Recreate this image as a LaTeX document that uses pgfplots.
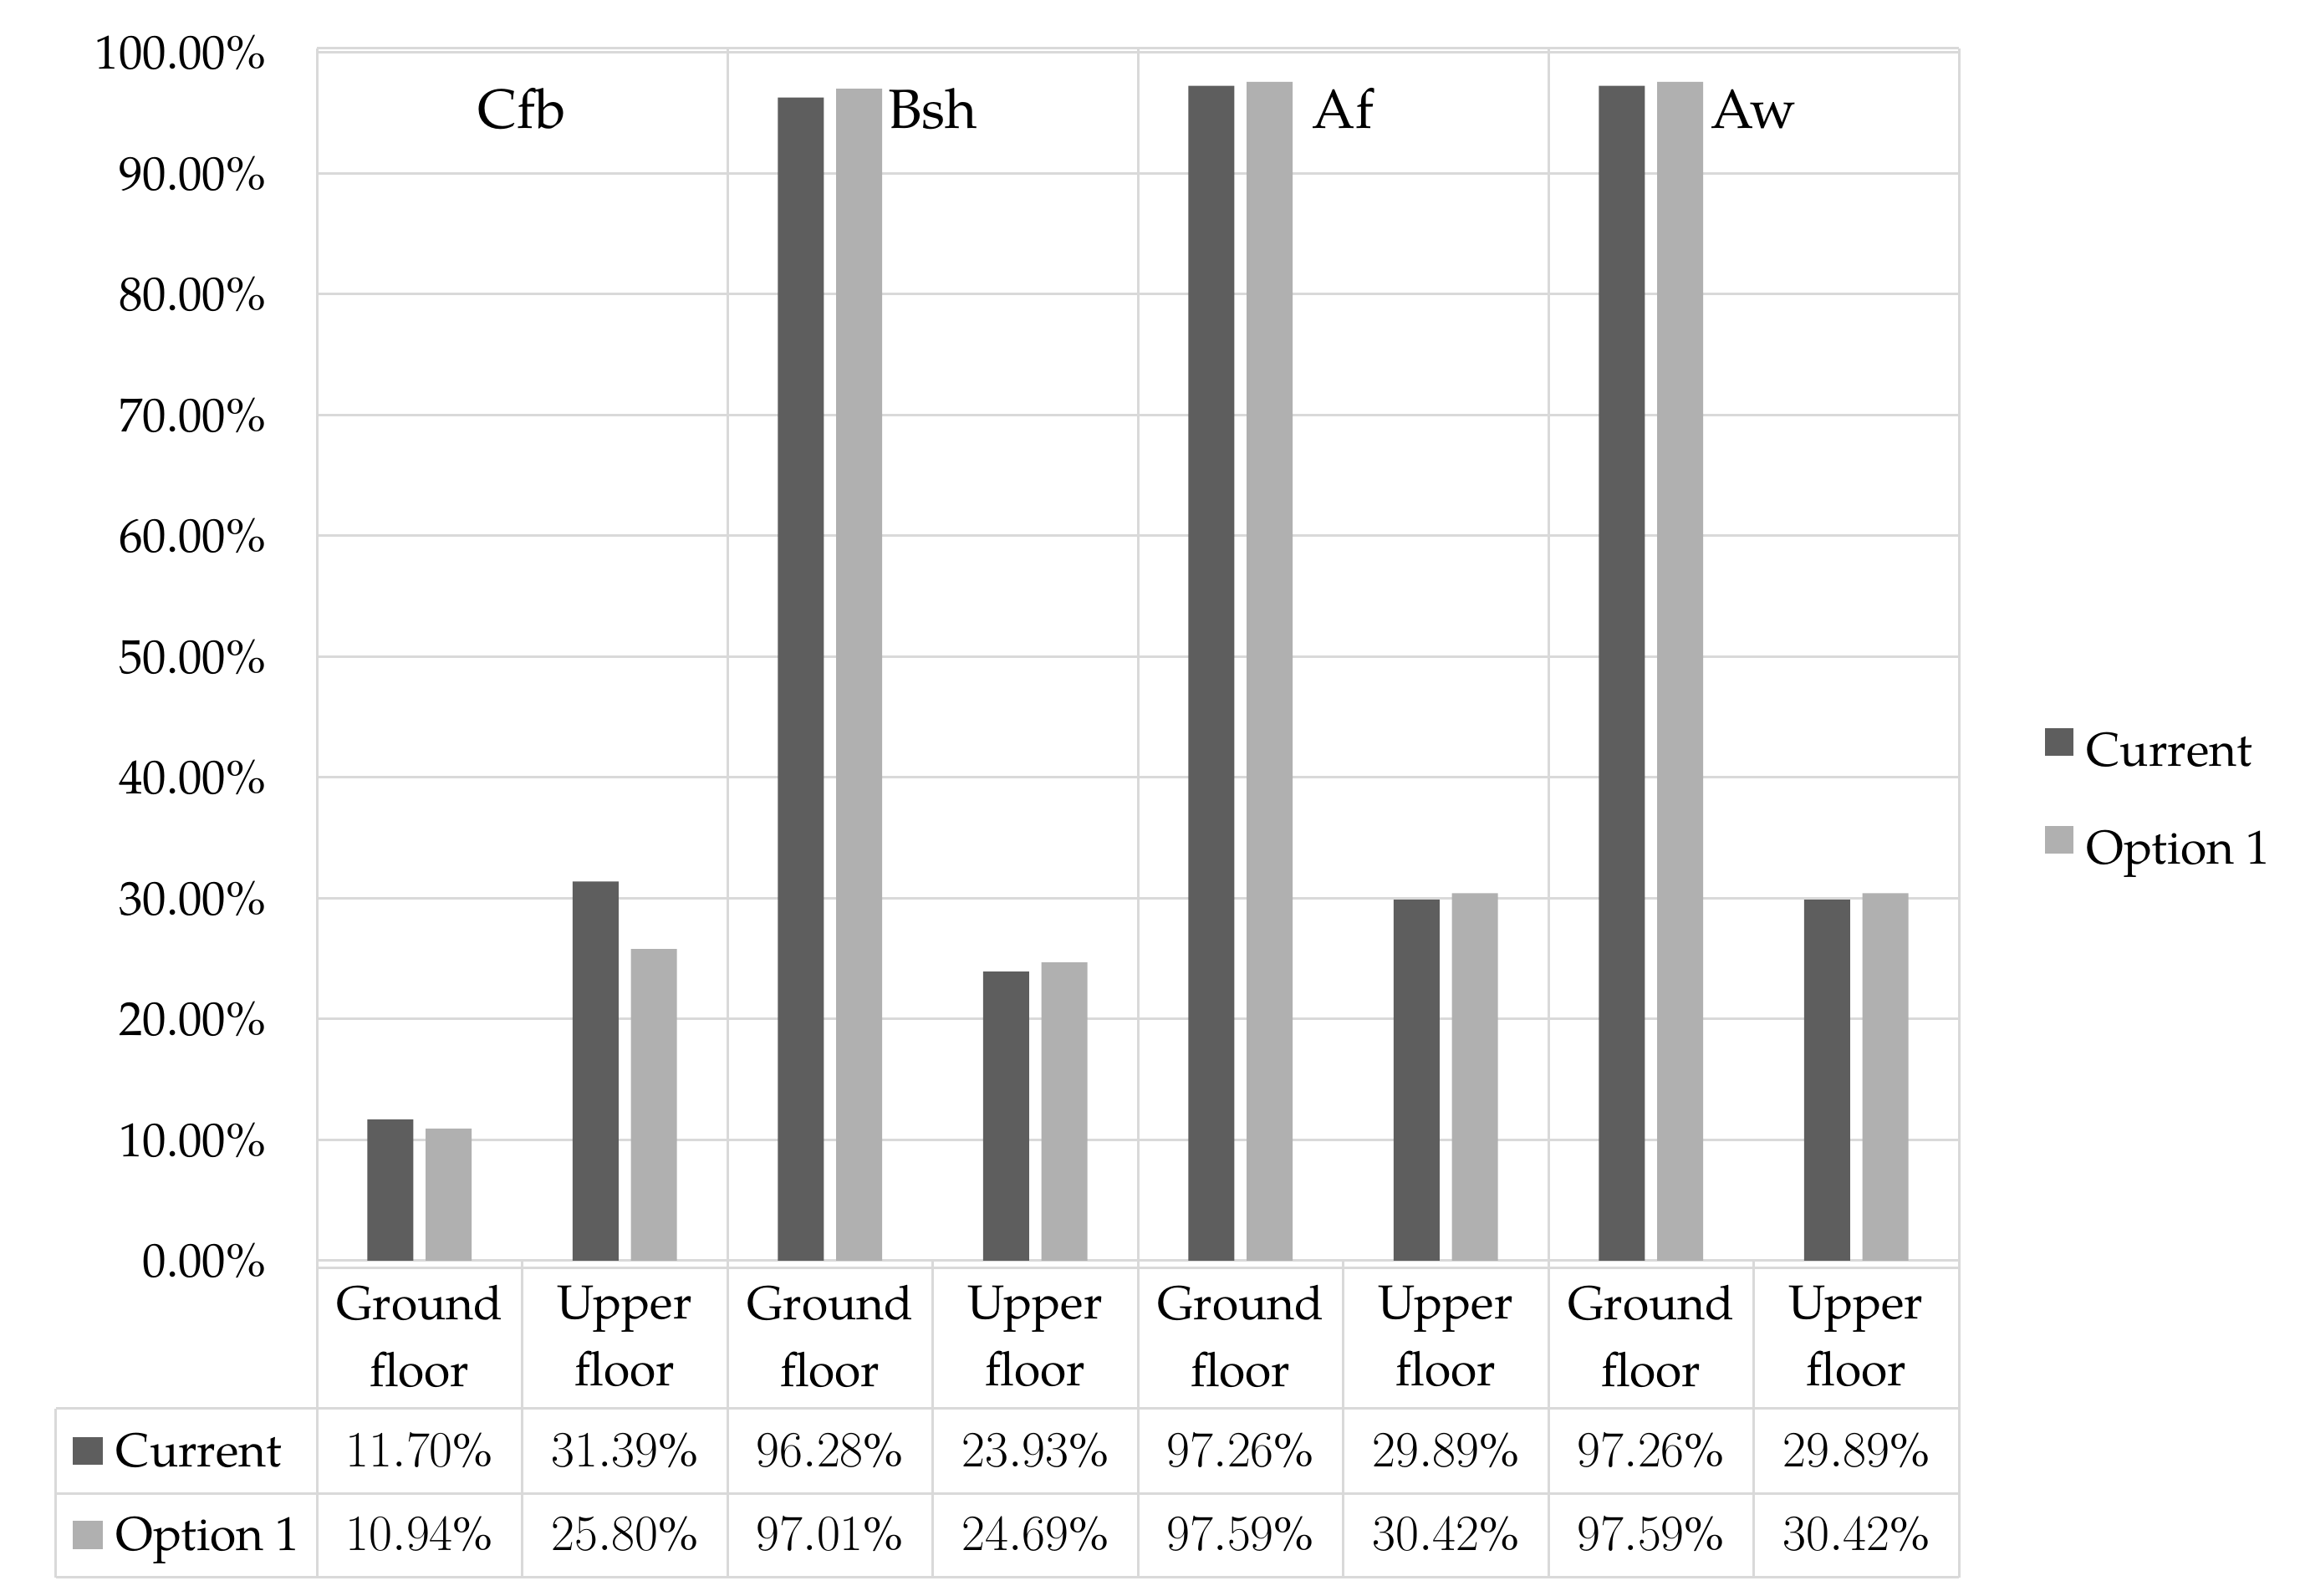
\documentclass[border=0pt]{standalone}
\usepackage{fontspec}
\setmainfont{TeX Gyre Pagella}
\usepackage{pgfplots}
\usepackage{pgfplotstable}
\pgfplotsset{compat=1.18}

\definecolor{curgray}{HTML}{5E5E5E}
\definecolor{optgray}{HTML}{B0B0B0}
\definecolor{gridgray}{HTML}{D9D9D9}

% share of hours, %
\pgfplotstableread{
x    cur    opt
0.5  11.70  10.94
1.5  31.39  25.80
2.5  96.28  97.01
3.5  23.93  24.69
4.5  97.26  97.59
5.5  29.89  30.42
6.5  97.26  97.59
7.5  29.89  30.42
}\data

\newcommand{\txt}{\fontsize{16.2pt}{22.8pt}\selectfont}
\newcommand{\grp}{\fontsize{18.8pt}{22.8pt}\selectfont}
\tikzset{tbl/.style={gridgray, line width=0.3mm}}

\begin{document}
\begin{tikzpicture}
\useasboundingbox (-37.9mm,-40.1mm) rectangle (237.2mm,150.8mm);
\begin{axis}[
  width=196.4mm, height=144.5mm, scale only axis,
  xmin=0, xmax=8, ymin=0, ymax=100,
  clip=false,
  axis line style={draw=none},
  tick style={draw=none},
  ytick={0,10,...,100},
  ymajorgrids, grid style={gridgray, line width=0.3mm},
  /pgf/number format/assume math mode=true,
  yticklabel={\pgfmathprintnumber[fixed,fixed zerofill,precision=2]{\tick}\%},
  yticklabel style={font=\txt, anchor=east, inner sep=0pt, xshift=-6mm},
  xtick={0.5,1.5,...,7.5},
  xticklabels={{Ground\\floor},{Upper\\floor},{Ground\\floor},{Upper\\floor},
               {Ground\\floor},{Upper\\floor},{Ground\\floor},{Upper\\floor}},
  xticklabel style={font=\txt, align=center, anchor=center, inner sep=0pt, yshift=-9mm},
  legend image code/.code={\fill[#1] (0mm,0mm) rectangle (3.4mm,3.3mm);},
  legend cell align=left,
  legend style={at={(rel axis cs:1.0519,0.4415)}, anchor=north west,
    draw=none, fill=none, inner sep=0pt, row sep=5.7mm, /tikz/column sep=1.6mm,
    nodes={font=\txt, inner sep=0pt, text height=4mm, text depth=1.5mm}},
]
\addplot[ybar, bar width=0.224, bar shift=-0.142, fill=curgray, draw=none]
  table[x=x, y=cur]{\data};
\addlegendentry{Current}
\addplot[ybar, bar width=0.224, bar shift=0.142, fill=optgray, draw=none]
  table[x=x, y=opt]{\data};
\addlegendentry{Option 1}
\end{axis}

% frame of the climate groups
\draw[tbl] (0,145.0mm) -- (196.4mm,145.0mm);
\foreach \k in {0,2,4,6,8} \draw[tbl] ({\k*24.55mm},0) -- ({\k*24.55mm},145.0mm);
\foreach \k/\name in {1/Cfb,3/Bsh,5/Af,7/Aw}
  \node[font=\grp, anchor=base, inner sep=0pt] at ({\k*24.55mm},135.4mm) {\name};

% data table below the axis
\draw[tbl] (0,-0.9mm) -- (196.4mm,-0.9mm);
\foreach \y in {-17.7,-27.9,-37.9} \draw[tbl] (-31.2mm,\y mm) -- (196.4mm,\y mm);
\draw[tbl] (-31.2mm,-17.7mm) -- (-31.2mm,-37.9mm);
\foreach \k in {0,...,8} \draw[tbl] ({\k*24.55mm},0) -- ({\k*24.55mm},-37.9mm);

\fill[curgray] (-29.2mm,-24.4mm) rectangle (-25.6mm,-21.1mm);
\node[font=\txt, anchor=base west, inner sep=0pt] at (-24.1mm,-24.7mm) {Current};
\fill[optgray] (-29.2mm,-34.5mm) rectangle (-25.6mm,-31.1mm);
\node[font=\txt, anchor=base west, inner sep=0pt] at (-24.1mm,-34.7mm) {Option 1};

\pgfplotstableforeachcolumnelement{cur}\of\data\as\val{%
  \node[font=\txt, anchor=base, inner sep=0pt] at ({(\pgfplotstablerow+0.5)*24.55mm},-24.7mm)
    {\pgfmathprintnumber[fixed,fixed zerofill,precision=2]{\val}\%};
}
\pgfplotstableforeachcolumnelement{opt}\of\data\as\val{%
  \node[font=\txt, anchor=base, inner sep=0pt] at ({(\pgfplotstablerow+0.5)*24.55mm},-34.7mm)
    {\pgfmathprintnumber[fixed,fixed zerofill,precision=2]{\val}\%};
}
\end{tikzpicture}
\end{document}
